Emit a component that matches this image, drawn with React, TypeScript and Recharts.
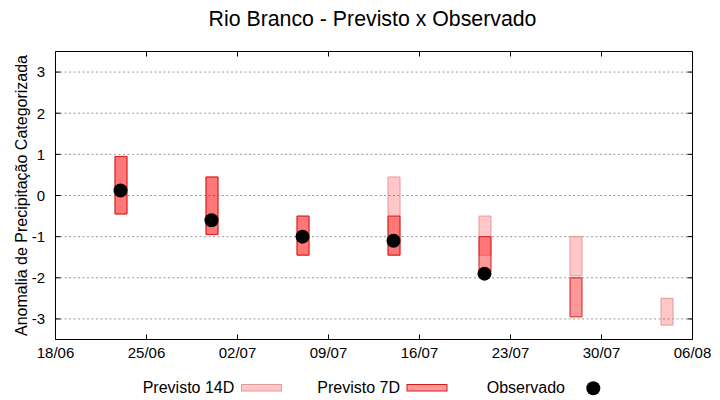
import React from 'react';
import { ComposedChart, Bar, Scatter, XAxis, YAxis, CartesianGrid, Legend } from 'recharts';

const YEAR = 2021;
const tickLabels = ['18/06', '25/06', '02/07', '09/07', '16/07', '23/07', '30/07', '06/08'];
const dates = ['23/06', '30/06', '07/07', '14/07', '21/07', '28/07', '04/08'];
const prev14Low: (number | null)[] = [-0.45, -0.95, -1.45, -1.45, -1.45, -1.95, -3.15];
const prev14High: (number | null)[] = [0.95, 0.45, -0.5, 0.45, -0.5, -1.0, -2.5];
const prev7Low: (number | null)[] = [-0.45, -0.95, -1.45, -1.45, -1.85, -2.95, null];
const prev7High: (number | null)[] = [0.95, 0.45, -0.5, -0.5, -1.0, -2.0, null];
const observed: (number | null)[] = [0.12, -0.6, -1.0, -1.1, -1.9, null, null];
const yTicks = [-3, -2, -1, 0, 1, 2, 3];
const yDomain = [-3.5, 3.5];

const FONT = '"Liberation Sans", Arial, Helvetica, sans-serif';

const toTime = (s: string) => {
  const [d, m] = s.split('/').map(Number);
  return Date.UTC(YEAR, m - 1, d);
};
const fmt = (t: number) => {
  const dt = new Date(t);
  return String(dt.getUTCDate()).padStart(2, '0') + '/' + String(dt.getUTCMonth() + 1).padStart(2, '0');
};

const tickValues = tickLabels.map(toTime);
const xDomain = [tickValues[0], tickValues[tickValues.length - 1]];

const rows = dates.map((d, i) => ({
  t: toTime(d),
  p14: prev14Low[i] == null ? null : [prev14Low[i], prev14High[i]],
  p7: prev7Low[i] == null ? null : [prev7Low[i], prev7High[i]],
  obs: observed[i],
}));
const obsRows = rows.filter((r) => r.obs != null);

const C14_FILL = '#ff0000';
const C14_OP = 0.22;
const C14_STROKE = '#e49a9a';
const C7_FILL = '#ff0000';
const C7_OP = 0.4;
const C7_STROKE = '#d81c1c';

const LegendContent = () => (
  <svg width={720} height={28} style={{ display: 'block', fontFamily: FONT }}>
    <text x={142.7} y={20.5} fontSize={16} fill="#000">Previsto 14D</text>
    <rect x={241.5} y={12.5} width={40} height={6.5} fill={C14_FILL} fillOpacity={C14_OP} stroke={C14_STROKE} />
    <text x={317.3} y={20.5} fontSize={16} fill="#000">Previsto 7D</text>
    <rect x={407} y={12.5} width={40} height={6.5} fill={C7_FILL} fillOpacity={C7_OP} stroke={C7_STROKE} />
    <text x={486.7} y={20.5} fontSize={16} fill="#000">Observado</text>
    <circle cx={593.3} cy={16.3} r={7} fill="#000" />
  </svg>
);

const noLabel = () => <g />;

export default function App() {
  return (
    <div style={{ position: 'relative', width: 720, height: 400, background: '#fff', fontFamily: FONT }}>
      <style>{'body{margin:0;background:#fff}'}</style>
      <svg width={720} height={40} style={{ position: 'absolute', left: 0, top: 0, pointerEvents: 'none' }}>
        <text x={372.5} y={26} textAnchor="middle" fontSize={21.3} fill="#000" style={{ fontFamily: FONT }}>
          Rio Branco - Previsto x Observado
        </text>
      </svg>
      <ComposedChart
        width={720}
        height={400}
        data={rows}
        margin={{ top: 50.5, right: 26.5, bottom: 2.5, left: 0 }}
        style={{ fontFamily: FONT }}
      >
        <CartesianGrid
          xAxisId="a"
          yAxisId="a"
          vertical={false}
          syncWithTicks
          stroke="#9a9a9a"
          strokeDasharray="2 2.5"
        />
        <XAxis
          xAxisId="a"
          type="number"
          dataKey="t"
          domain={xDomain}
          ticks={tickValues}
          interval={0}
          tickFormatter={fmt}
          height={30}
          tickSize={-5}
          tickMargin={13}
          axisLine={{ stroke: '#000' }}
          tickLine={{ stroke: '#000' }}
          tick={{ fill: '#000', fontSize: 15 }}
        />
        <XAxis
          xAxisId="top"
          orientation="top"
          type="number"
          dataKey="t"
          domain={xDomain}
          ticks={tickValues}
          interval={0}
          height={1}
          tick={noLabel}
          tickSize={-5}
          axisLine={{ stroke: '#000' }}
          tickLine={{ stroke: '#000' }}
        />
        <YAxis
          yAxisId="a"
          type="number"
          domain={yDomain}
          ticks={yTicks}
          interval={0}
          width={55.5}
          tickSize={-5}
          tickMargin={15.5}
          axisLine={{ stroke: '#000' }}
          tickLine={{ stroke: '#000' }}
          tick={{ fill: '#000', fontSize: 15 }}
          label={{
            value: 'Anomalia de Precipitação Categorizada',
            angle: -90,
            position: 'center',
            dx: -6,
            style: { fontSize: 16, fill: '#000', fontFamily: FONT },
          }}
        />
        <YAxis
          yAxisId="r"
          orientation="right"
          type="number"
          domain={yDomain}
          ticks={yTicks}
          interval={0}
          width={1}
          tick={noLabel}
          tickSize={-5}
          axisLine={{ stroke: '#000' }}
          tickLine={{ stroke: '#000' }}
        />
        <Bar
          xAxisId="a"
          yAxisId="a"
          dataKey="p14"
          name="Previsto 14D"
          barSize={12}
          fill={C14_FILL}
          fillOpacity={C14_OP}
          stroke={C14_STROKE}
          strokeWidth={1}
          isAnimationActive={false}
        />
        <Bar
          xAxisId="top"
          yAxisId="r"
          dataKey="p7"
          name="Previsto 7D"
          barSize={12}
          fill={C7_FILL}
          fillOpacity={C7_OP}
          stroke={C7_STROKE}
          strokeWidth={1}
          isAnimationActive={false}
        />
        <Scatter
          xAxisId="a"
          yAxisId="a"
          data={obsRows}
          dataKey="obs"
          name="Observado"
          fill="#000"
          shape={(p: any) => <circle cx={p.cx} cy={p.cy} r={7} fill="#000" />}
          isAnimationActive={false}
        />
        <Legend
          verticalAlign="bottom"
          content={() => <LegendContent />}
          wrapperStyle={{ position: 'absolute', left: 0, top: 372, width: 720, height: 28 }}
        />
      </ComposedChart>
    </div>
  );
}
